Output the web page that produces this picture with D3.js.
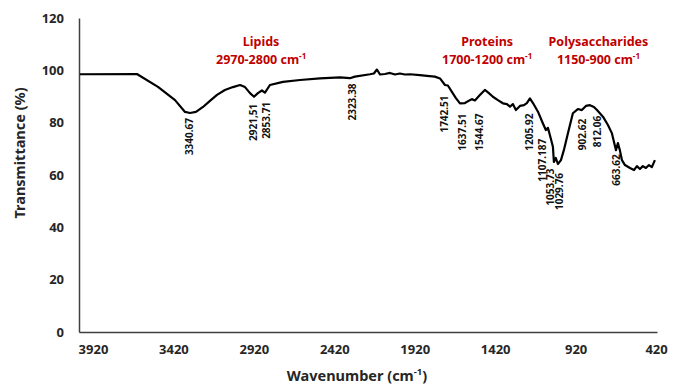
<!DOCTYPE html>
<html>
<head>
<meta charset="utf-8">
<script src="https://cdn.jsdelivr.net/npm/d3@7"></script>
<style>
  body { margin: 0; background: #fff; }
  text { font-family: "Noto Sans", "Open Sans", sans-serif; font-weight: bold; }
</style>
</head>
<body>
<svg id="chart"></svg>
<script>
// spectrum: wavenumber (cm-1) and transmittance (%)
const wavenumber = [4001, 3647, 3516, 3410, 3348, 3317, 3280, 3236, 3193, 3149, 3100, 3050, 3006, 2975, 2944, 2919,
  2895, 2870, 2851, 2820, 2739, 2633, 2509, 2385, 2323, 2292, 2198, 2174, 2155, 2136, 2105, 2074, 2043, 2012, 1981,
  1950, 1888, 1844, 1795, 1763, 1732, 1714, 1689, 1664, 1639, 1608, 1577, 1565, 1546, 1515, 1484, 1459, 1434, 1403,
  1372, 1347, 1328, 1310, 1291, 1266, 1241, 1223, 1204, 1185, 1154, 1123, 1105, 1092, 1080, 1061, 1055, 1043, 1030,
  1011, 993, 968, 937, 906, 881, 856, 831, 806, 787, 750, 719, 694, 669, 657, 645, 632, 613, 582, 557, 539, 520, 502,
  483, 464, 446, 427, 414];
const transmittance = [98.5, 98.6, 93.7, 88.6, 84.1, 83.7, 84.1, 86.0, 88.3, 90.6, 92.5, 93.6, 94.4, 93.6, 91.3, 89.9,
  91.3, 92.3, 91.5, 94.4, 95.6, 96.3, 96.9, 97.3, 97.0, 97.6, 98.5, 98.8, 100.3, 98.4, 98.6, 99.0, 98.4, 98.8, 98.4,
  98.5, 98.2, 97.9, 97.6, 96.9, 94.4, 94.2, 91.8, 89.4, 87.4, 87.5, 88.6, 89.0, 88.5, 90.6, 92.5, 91.3, 89.9, 88.6,
  87.4, 87.1, 86.1, 87.1, 84.8, 86.4, 86.7, 87.5, 89.3, 87.5, 84.2, 79.7, 77.2, 78.0, 75.3, 70.8, 65.0, 66.5, 64.2,
  65.7, 69.5, 75.9, 83.6, 85.2, 84.8, 86.4, 86.7, 86.0, 84.8, 82.3, 79.1, 75.9, 69.5, 72.2, 69.5, 65.7, 63.8, 62.7,
  61.9, 63.4, 62.3, 63.4, 62.7, 63.8, 63.0, 65.7];

const xTicks = [3920, 3420, 2920, 2420, 1920, 1420, 920, 420];
const yTicks = [0, 20, 40, 60, 80, 100, 120];

// peak annotations and where the label top sits (in % units)
const peakText = ["3340.67", "2921,51", "2853.71", "2323.38", "1742.51", "1637.51", "1544.67", "1205.92",
  "1107.187", "1053.73", "1029.76", "902.62", "812.06", "663.62"];
const peakTop = [81.8, 87.2, 88.0, 95.0, 90.4, 83.5, 83.5, 83.5, 73.8, 62.5, 60.8, 81.5, 82.6, 67.9];
const peakShift = [3, 0, 2, 3, 1, 2, 4, 0, -3, -3.5, 1.5, 4, 5, 0];

const regionName = ["Lipids", "Proteins", "Polysaccharides"];
const regionRange = ["2970-2800", "1700-1200", "1150-900"];
const regionCentre = [2875, 1470, 778];

const width = 678, height = 391;
const svg = d3.select("#chart").attr("width", width).attr("height", height);

let x = d3.scaleLinear().domain([4007, 414]).range([79, 657]);
let y = d3.scaleLinear().domain([0, 120]).range([332, 18]);

let axisColor = "#404040";
let textColor = "#262626";

// axes lines without tick marks, like the spreadsheet export
svg.append("g")
    .attr("transform", `translate(0,${y(0)})`)
    .call(d3.axisBottom(x).tickValues(xTicks).tickSize(0).tickPadding(13).tickFormat(d3.format("d")))
    .call(g => g.select(".domain").attr("stroke", axisColor).attr("stroke-width", 1.5))
    .selectAll("text")
      .attr("font-size", 13)
      .attr("fill", textColor)
      .style("font-family", "Noto Sans, sans-serif");

svg.append("g")
    .attr("transform", `translate(${x.range()[0]},0)`)
    .call(d3.axisLeft(y).tickValues(yTicks).tickSize(0).tickPadding(15))
    .call(g => g.select(".domain").attr("stroke", axisColor).attr("stroke-width", 1.5))
    .selectAll("text")
      .attr("font-size", 13)
      .attr("fill", textColor)
      .style("font-family", "Noto Sans, sans-serif");

// axis titles
svg.append("text")
    .attr("transform", "translate(20,153) rotate(-90)")
    .attr("text-anchor", "middle")
    .attr("dy", "0.35em")
    .attr("font-size", 14.5)
    .attr("fill", textColor)
    .text("Transmittance (%)");

let xTitle = svg.append("text")
    .attr("x", 357)
    .attr("y", 381)
    .attr("text-anchor", "middle")
    .attr("font-size", 14.5)
    .attr("fill", textColor);
xTitle.append("tspan").text("Wavenumber (cm");
xTitle.append("tspan").attr("font-size", 9.5).attr("dy", -6).text("-1");
xTitle.append("tspan").attr("dy", 6).text(")");

// spectrum
let data = wavenumber.map((w, i) => ({w: w, t: transmittance[i]}));
let line = d3.line()
              .x(d => x(d.w))
              .y(d => y(d.t));

svg.append("path")
    .datum(data)
    .attr("d", line)
    .attr("fill", "none")
    .attr("stroke", "#000")
    .attr("stroke-width", 2.2)
    .attr("stroke-linejoin", "round");

// peak labels, vertical, reading bottom to top
svg.selectAll(".peak")
  .data(peakText)
  .enter()
  .append("text")
    .classed("peak", true)
    .attr("transform", (d, i) => {
      let px = x(parseFloat(d.replace(",", "."))) + peakShift[i];
      return `translate(${px},${y(peakTop[i])}) rotate(-90)`;
    })
    .attr("text-anchor", "end")
    .attr("dy", "0.35em")
    .attr("font-size", 10)
    .attr("fill", "#111")
    .text(d => d);

// region titles in red
regionName.forEach((name, i) => {
  let cx = x(regionCentre[i]);
  svg.append("text")
      .attr("x", cx)
      .attr("y", 46)
      .attr("text-anchor", "middle")
      .attr("font-size", 12.5)
      .attr("fill", "#c00000")
      .text(name);
  let t = svg.append("text")
      .attr("x", cx)
      .attr("y", 64)
      .attr("text-anchor", "middle")
      .attr("font-size", 12.5)
      .attr("fill", "#c00000");
  t.append("tspan").text(regionRange[i] + " cm");
  t.append("tspan").attr("font-size", 8).attr("dy", -5).text("-1");
});
</script>
</body>
</html>
